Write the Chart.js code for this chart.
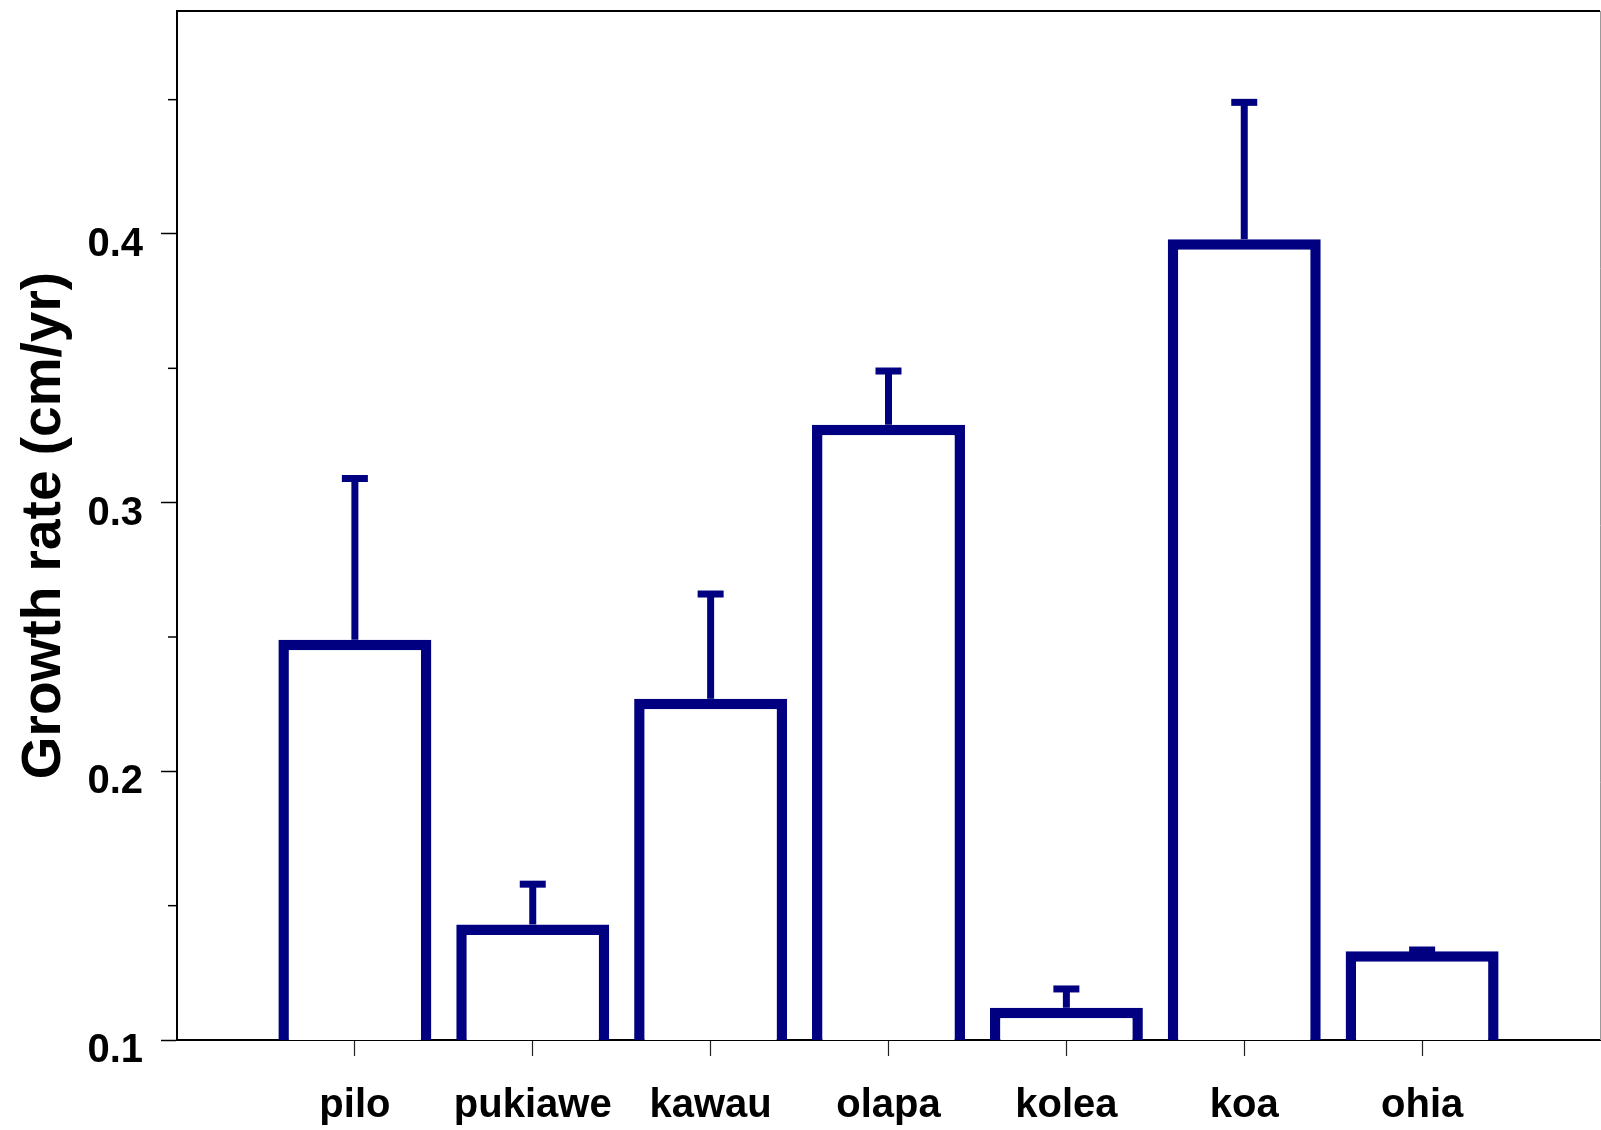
<!DOCTYPE html>
<html>
<head>
<meta charset="utf-8">
<script src="https://cdn.jsdelivr.net/npm/chart.js@4.4.1/dist/chart.umd.min.js"></script>
<style>
  html, body { margin: 0; padding: 0; background: #fff; }
  #wrap { width: 1601px; height: 1130px; }
</style>
</head>
<body>
<div id="wrap"><canvas id="growth" width="1601" height="1130"></canvas></div>
<script>
// Mean stem growth per species with the upper standard error
const species = ['pilo', 'pukiawe', 'kawau', 'olapa', 'kolea', 'koa', 'ohia'];
const growthRate = [0.249, 0.143, 0.227, 0.329, 0.112, 0.398, 0.133];
const growthErr = [0.060, 0.015, 0.039, 0.020, 0.007, 0.051, 0.0005];

// Y axis: labelled major ticks and short unlabelled minor ticks
const majorTicks = [0.1, 0.2, 0.3, 0.4];
const majorTickLabels = ['0.1', '0.2', '0.3', '0.4'];
const minorTicks = [0.15, 0.25, 0.35, 0.45];

const NAVY = '#000080';
const FONT = '"Liberation Sans", Arial, Helvetica, sans-serif';

// one empty slot on each side leaves a full category gap at both ends
const xLabels = ['', ...species, ''];
const padded = arr => [null, ...arr, null];

const majorIndex = v => majorTicks.findIndex(m => Math.abs(m - v) < 1e-9);

// keep the plot box at fixed edges: no extra room for overhanging labels
const noOverhang = s => {
  s.paddingTop = 0; s.paddingBottom = 0; s.paddingLeft = 0; s.paddingRight = 0;
};

const errorBars = {
  id: 'errorBars',
  afterDatasetsDraw(chart) {
    const meta = chart.getDatasetMeta(0);
    const y = chart.scales.y;
    const ctx = chart.ctx;
    ctx.save();
    ctx.strokeStyle = NAVY;
    ctx.lineCap = 'butt';
    meta.data.forEach((bar, i) => {
      const k = i - 1;
      if (k < 0 || k >= species.length) return;
      const capY = y.getPixelForValue(growthRate[k] + growthErr[k]);
      ctx.lineWidth = 7;
      ctx.beginPath();
      ctx.moveTo(bar.x, bar.y);
      ctx.lineTo(bar.x, capY);
      ctx.stroke();
      ctx.lineWidth = 7;
      ctx.beginPath();
      ctx.moveTo(bar.x - 13, capY);
      ctx.lineTo(bar.x + 13, capY);
      ctx.stroke();
    });
    ctx.restore();
  }
};

const frame = {
  id: 'frame',
  afterDraw(chart) {
    const { ctx, chartArea: a } = chart;
    const y = chart.scales.y;
    ctx.save();
    // top edge of the plot box
    ctx.strokeStyle = '#000';
    ctx.lineWidth = 2;
    ctx.beginPath();
    ctx.moveTo(a.left - 1, a.top);
    ctx.lineTo(a.right, a.top);
    ctx.stroke();
    // right edge
    ctx.strokeStyle = '#9a9a9a';
    ctx.lineWidth = 1;
    ctx.beginPath();
    ctx.moveTo(a.right + 0.5, a.top);
    ctx.lineTo(a.right + 0.5, a.bottom);
    ctx.stroke();
    // minor ticks on the y axis
    ctx.strokeStyle = '#000';
    ctx.lineWidth = 1.5;
    minorTicks.forEach(v => {
      const py = y.getPixelForValue(v);
      ctx.beginPath();
      ctx.moveTo(a.left - 9, py);
      ctx.lineTo(a.left, py);
      ctx.stroke();
    });
    ctx.restore();
  }
};

new Chart(document.getElementById('growth'), {
  type: 'bar',
  data: {
    labels: xLabels,
    datasets: [{
      data: padded(growthRate),
      backgroundColor: '#ffffff',
      borderColor: NAVY,
      borderWidth: 10.5,
      borderSkipped: 'bottom',
      barPercentage: 0.86,
      categoryPercentage: 1.0
    }]
  },
  options: {
    responsive: false,
    animation: false,
    devicePixelRatio: 1,
    layout: { padding: { top: 11, right: 1, left: 0, bottom: 0 } },
    plugins: {
      legend: { display: false },
      tooltip: { enabled: false }
    },
    scales: {
      x: {
        type: 'category',
        offset: false,
        grid: {
          display: true,
          offset: false,
          drawOnChartArea: false,
          drawTicks: true,
          tickLength: 16,
          tickWidth: 1.2,
          tickColor: c => (c.index === 0 || c.index === xLabels.length - 1) ? 'rgba(0,0,0,0)' : '#222'
        },
        border: { display: true, color: '#000', width: 2 },
        ticks: {
          color: '#000',
          font: { family: FONT, size: 40, weight: 'bold' },
          padding: 26,
          maxRotation: 0,
          minRotation: 0,
          autoSkip: false
        },
        afterFit: s => { s.height = 90; noOverhang(s); }
      },
      y: {
        type: 'linear',
        min: 0.1,
        max: 0.483,
        afterBuildTicks: s => {
          s.ticks = [...majorTicks, ...minorTicks].sort((a, b) => a - b).map(v => ({ value: v }));
        },
        grid: {
          display: true,
          drawOnChartArea: false,
          drawTicks: true,
          tickLength: 16,
          tickWidth: 1.5,
          tickColor: c => (c.tick && majorIndex(c.tick.value) >= 0) ? '#000' : 'rgba(0,0,0,0)'
        },
        border: { display: true, color: '#000', width: 2 },
        ticks: {
          color: '#000',
          font: { family: FONT, size: 40, weight: 'bold' },
          padding: 18,
          labelOffset: 11,
          autoSkip: false,
          callback: v => {
            const i = majorIndex(v);
            return i >= 0 ? majorTickLabels[i] : '';
          }
        },
        title: {
          display: true,
          text: 'Growth rate (cm/yr)',
          color: '#000',
          font: { family: FONT, size: 55, weight: 'bold' },
          padding: { top: 12, bottom: 0 }
        },
        afterFit: s => { s.width = 177; noOverhang(s); }
      }
    }
  },
  plugins: [errorBars, frame]
});
</script>
</body>
</html>
